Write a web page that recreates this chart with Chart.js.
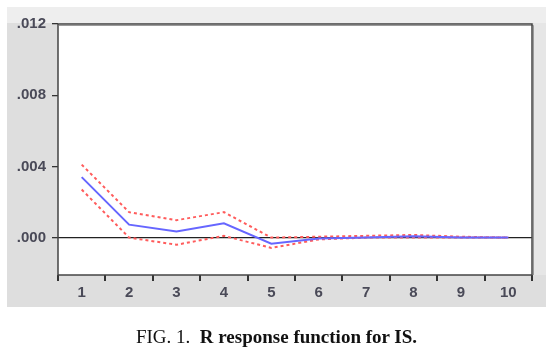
<!DOCTYPE html>
<html>
<head>
<meta charset="utf-8">
<script src="https://cdn.jsdelivr.net/npm/chart.js@4"></script>
<style>
    body { margin: 0; background: #fff; }
    #wrap { position: relative; width: 557px; height: 352px; }
    #caption {
        position: absolute; left: 0; top: 326px; width: 553px;
        text-align: center; font-family: "Liberation Serif", serif; font-size: 19px; color: #111;
    }
</style>
</head>
<body>
<div id="wrap">
    <canvas id="irfChart" width="557" height="352"></canvas>
    <div id="caption">FIG. 1.&nbsp; <b>R response function for IS.</b></div>
</div>
<script>
const periods = ['1', '2', '3', '4', '5', '6', '7', '8', '9', '10'];
const response = [0.0034, 0.00073, 0.00034, 0.0008, -0.00034, -0.00005, 0.0, 0.00008, 0.0, 0.0];
const upperBand = [0.0041, 0.00143, 0.00098, 0.00143, 0.0, 0.00005, 0.0001, 0.00015, 0.00005, 0.0];
const lowerBand = [0.0027, 0.0, -0.0004, 0.0001, -0.00058, -0.0001, 0.0, 0.0, 0.0, 0.0];
const yTicks = [0, 0.004, 0.008, 0.012];

//Gray panel behind the plot and the framed plot area
const panelPlugin = {
    id: 'panel',
    beforeDraw(chart) {
        const c = chart.ctx;
        const a = chart.chartArea;
        c.save();
        c.fillStyle = '#dedede';
        c.fillRect(7, 7, 539, 300);
        c.fillStyle = '#eeeeee';
        c.fillRect(7, 7, 539, 16);
        c.fillStyle = '#e6e6e6';
        c.fillRect(a.right + 2, 23, 546 - a.right - 2, a.bottom - 23);
        c.fillStyle = '#ffffff';
        c.fillRect(a.left, a.top, a.right - a.left, a.bottom - a.top);
        c.restore();
    },
    afterDraw(chart) {
        const c = chart.ctx;
        const a = chart.chartArea;
        c.save();
        c.strokeStyle = '#9a9a9a';
        c.lineWidth = 1;
        c.beginPath();
        c.moveTo(a.left + 1, a.top + 1.5);
        c.lineTo(a.right + 1.5, a.top + 1.5);
        c.lineTo(a.right + 1.5, a.bottom);
        c.stroke();
        c.strokeStyle = '#444';
        c.lineWidth = 1.5;
        c.strokeRect(a.left, a.top, a.right - a.left, a.bottom - a.top);
        c.restore();
    }
};

const tickFont = { family: 'Liberation Sans', size: 15, weight: 'bold' };

const ctx = document.getElementById('irfChart').getContext('2d');
new Chart(ctx, {
    type: 'line',
    data: {
        labels: periods,
        datasets: [{
            label: 'Response',
            data: response,
            borderColor: '#6666ff',
            borderWidth: 2,
            pointRadius: 0,
            tension: 0
        }, {
            label: 'Upper',
            data: upperBand,
            borderColor: '#ff5c5c',
            borderWidth: 2,
            borderDash: [3, 3],
            pointRadius: 0,
            tension: 0
        }, {
            label: 'Lower',
            data: lowerBand,
            borderColor: '#ff5c5c',
            borderWidth: 2,
            borderDash: [3, 3],
            pointRadius: 0,
            tension: 0
        }]
    },
    options: {
        responsive: false,
        animation: false,
        layout: { padding: { top: 24, right: 25, left: 0, bottom: 0 } },
        plugins: { legend: { display: false }, tooltip: { enabled: false } },
        scales: {
            x: {
                offset: true,
                border: { display: false },
                grid: { offset: true, drawOnChartArea: false, drawTicks: true, tickLength: 6, tickColor: '#333', lineWidth: 2 },
                ticks: { color: '#4a4a58', font: tickFont, padding: 3, maxRotation: 0 },
                afterFit(scale) { scale.height = 77; }
            },
            y: {
                min: -0.0021,
                max: 0.012,
                border: { display: false },
                grid: {
                    drawTicks: true,
                    tickLength: 6,
                    tickColor: '#333',
                    color: c => (c.tick && c.tick.value === 0 ? '#222' : 'rgba(0,0,0,0)'),
                    lineWidth: 1.3
                },
                afterBuildTicks(scale) {
                    scale.ticks = yTicks.map(v => ({ value: v }));
                },
                ticks: {
                    color: '#4a4a58',
                    font: tickFont,
                    padding: 6,
                    callback: v => v.toFixed(3).replace(/^0/, '')
                },
                afterFit(scale) { scale.width = 58; }
            }
        }
    },
    plugins: [panelPlugin]
});
</script>
</body>
</html>
